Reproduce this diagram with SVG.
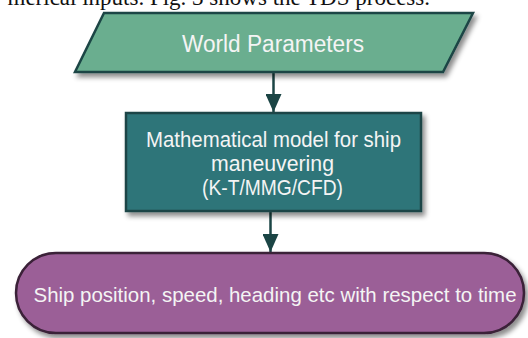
<svg xmlns="http://www.w3.org/2000/svg" width="528" height="338" viewBox="0 0 528 338">
<defs>
<style>
.lbl{font-family:"Liberation Sans",Arial,sans-serif;fill:#f4f4f4;text-anchor:middle}
.conn{stroke:#1b4545;stroke-width:2.5;fill:none}
</style>
<filter id="sh" x="-10%" y="-20%" width="125%" height="150%">
<feDropShadow dx="3" dy="4" stdDeviation="2.5" flood-color="#000" flood-opacity="0.45"/>
</filter>
<marker id="ah" viewBox="0 0 18 16" refX="18" refY="8" markerWidth="18" markerHeight="16" markerUnits="userSpaceOnUse" orient="auto">
<path d="M0,0 L18,8 L0,16 Z" fill="#1b4545"/>
</marker>
</defs>
<rect width="528" height="338" fill="#ffffff"/>
<text x="430" y="5" font-family="'Liberation Serif',serif" font-size="23" text-anchor="end" fill="#111">merical inputs. Fig. 3 shows the TDS process.</text>
<g id="connectors">
<line class="conn" x1="273.5" y1="73" x2="273.5" y2="112" marker-end="url(#ah)"/>
<line class="conn" x1="270.5" y1="211" x2="270.5" y2="252" marker-end="url(#ah)"/>
</g>
<g id="world-parameters">
<polygon points="104,13 473,13 443,72 75,72" fill="#6aae8f" stroke="#1b4545" stroke-width="2.5" stroke-linejoin="miter" filter="url(#sh)"/>
<text class="lbl" x="273" y="51.5" font-size="23" textLength="182" lengthAdjust="spacingAndGlyphs">World Parameters</text>
</g>
<g id="model">
<rect x="126" y="113" width="295" height="98" fill="#2e7579" stroke="#1d4447" stroke-width="2.5" filter="url(#sh)"/>
<text class="lbl" x="273.5" y="146.5" font-size="21.5" textLength="255" lengthAdjust="spacingAndGlyphs">Mathematical model for ship</text>
<text class="lbl" x="272.5" y="170.5" font-size="21.5" textLength="123" lengthAdjust="spacingAndGlyphs">maneuvering</text>
<text class="lbl" x="272.5" y="195" font-size="21.5" textLength="141" lengthAdjust="spacingAndGlyphs">(K-T/MMG/CFD)</text>
</g>
<g id="output">
<rect x="16" y="253" width="508" height="80" rx="40" ry="40" fill="#9b5f97" stroke="#3a2038" stroke-width="2.5" filter="url(#sh)"/>
<text class="lbl" x="275" y="302" font-size="20.5" textLength="483" lengthAdjust="spacingAndGlyphs">Ship position, speed, heading etc with respect to time</text>
</g>
</svg>
